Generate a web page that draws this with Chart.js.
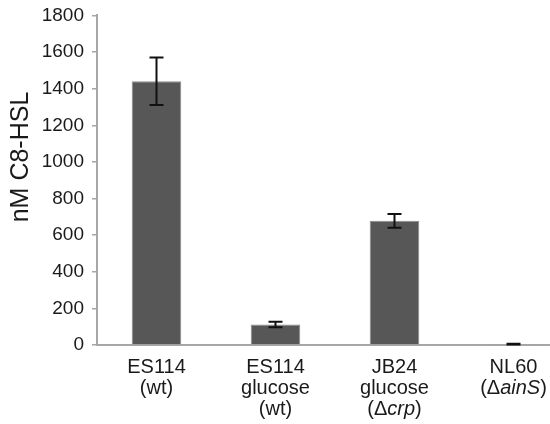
<!DOCTYPE html>
<html>
<head>
<meta charset="utf-8">
<script src="https://cdn.jsdelivr.net/npm/chart.js@4.4.1/dist/chart.umd.min.js"></script>
<style>
  html, body { margin: 0; padding: 0; background: #ffffff; }
  #frame { width: 550px; height: 424px; overflow: hidden; position: relative; }
  #box { width: 573px; height: 428px; position: absolute; left: 0; top: -4px; }
</style>
</head>
<body>
<div id="frame"><div id="box"><canvas id="c"></canvas></div></div>
<script>
// Strains / conditions; text between underscores is set in italics
const categoryLines = [
  ["ES114", "(wt)"],
  ["ES114", "glucose", "(wt)"],
  ["JB24", "glucose", "(\u0394_crp_)"],
  ["NL60", "(\u0394_ainS_)"]
];
const meanValues = [1440, 112, 678, 5];
const errorValues = [130, 15, 37, 2];
const yTicks = [0, 200, 400, 600, 800, 1000, 1200, 1400, 1600, 1800];
const yTitle = "nM C8-HSL";

const FONT = "'Liberation Sans', Arial, Helvetica, sans-serif";
const AXIS_GRAY = "#a6a6a6";

// Symmetric error bars with flat caps
const errorBars = {
  id: "errorBars",
  afterDatasetsDraw(chart) {
    const { ctx } = chart;
    const y = chart.scales.y;
    const meta = chart.getDatasetMeta(0);
    ctx.save();
    ctx.strokeStyle = "#111111";
    ctx.lineWidth = 2;
    meta.data.forEach((bar, i) => {
      const v = meanValues[i], e = errorValues[i];
      const yTop = y.getPixelForValue(v + e);
      const yBot = y.getPixelForValue(v - e);
      const x = bar.x;
      const cap = 7;
      ctx.beginPath();
      ctx.moveTo(x, yTop); ctx.lineTo(x, yBot);
      ctx.moveTo(x - cap, yTop); ctx.lineTo(x + cap, yTop);
      ctx.moveTo(x - cap, yBot); ctx.lineTo(x + cap, yBot);
      ctx.stroke();
    });
    ctx.restore();
  }
};

// Category labels with italic gene names, and the rotated axis title
const labelText = {
  id: "labelText",
  afterDraw(chart) {
    const { ctx } = chart;
    const x = chart.scales.x;
    const size = 20, lineH = 21;
    const top = chart.chartArea.bottom + 12;
    ctx.save();
    ctx.fillStyle = "#1a1a1a";
    ctx.textBaseline = "top";
    categoryLines.forEach((lines, i) => {
      const cx = x.getPixelForTick(i);
      lines.forEach((line, j) => {
        const parts = line.split("_").map((t, k) => ({ t, it: k % 2 === 1 }));
        let w = 0;
        parts.forEach(p => {
          ctx.font = (p.it ? "italic " : "") + size + "px " + FONT;
          p.w = ctx.measureText(p.t).width;
          w += p.w;
        });
        let px = cx - w / 2;
        ctx.textAlign = "left";
        parts.forEach(p => {
          ctx.font = (p.it ? "italic " : "") + size + "px " + FONT;
          ctx.fillText(p.t, px, top + j * lineH);
          px += p.w;
        });
      });
    });
    // y-axis title
    ctx.translate(21, 161);
    ctx.rotate(-Math.PI / 2);
    ctx.textAlign = "center";
    ctx.textBaseline = "middle";
    ctx.font = "25px " + FONT;
    ctx.fillText(yTitle, 0, 0);
    ctx.restore();
  }
};

new Chart(document.getElementById("c"), {
  type: "bar",
  data: {
    labels: categoryLines.map(l => l.join(" ").replace(/_/g, "")),
    datasets: [{
      data: meanValues,
      backgroundColor: "#575757",
      borderColor: "#8c8c8c",
      borderWidth: 1,
      categoryPercentage: 1,
      barPercentage: 0.417
    }]
  },
  options: {
    responsive: true,
    maintainAspectRatio: false,
    animation: false,
    layout: { padding: { top: 1, right: 0, bottom: 71, left: 0 } },
    plugins: { legend: { display: false }, tooltip: { enabled: false } },
    scales: {
      x: {
        grid: { display: false },
        border: { display: true, color: AXIS_GRAY, width: 2 },
        ticks: { display: false }
      },
      y: {
        min: 0,
        max: 1800,
        afterBuildTicks(scale) { scale.ticks = yTicks.map(v => ({ value: v })); },
        afterFit(scale) { scale.width = 97; },
        grid: { display: true, drawOnChartArea: false, drawTicks: true, tickLength: 5, color: AXIS_GRAY, lineWidth: 1.5 },
        border: { display: true, color: AXIS_GRAY, width: 2 },
        ticks: { color: "#1a1a1a", padding: 8, font: { family: FONT, size: 19 }, callback: v => String(v) }
      }
    }
  },
  plugins: [errorBars, labelText]
});
</script>
</body>
</html>
